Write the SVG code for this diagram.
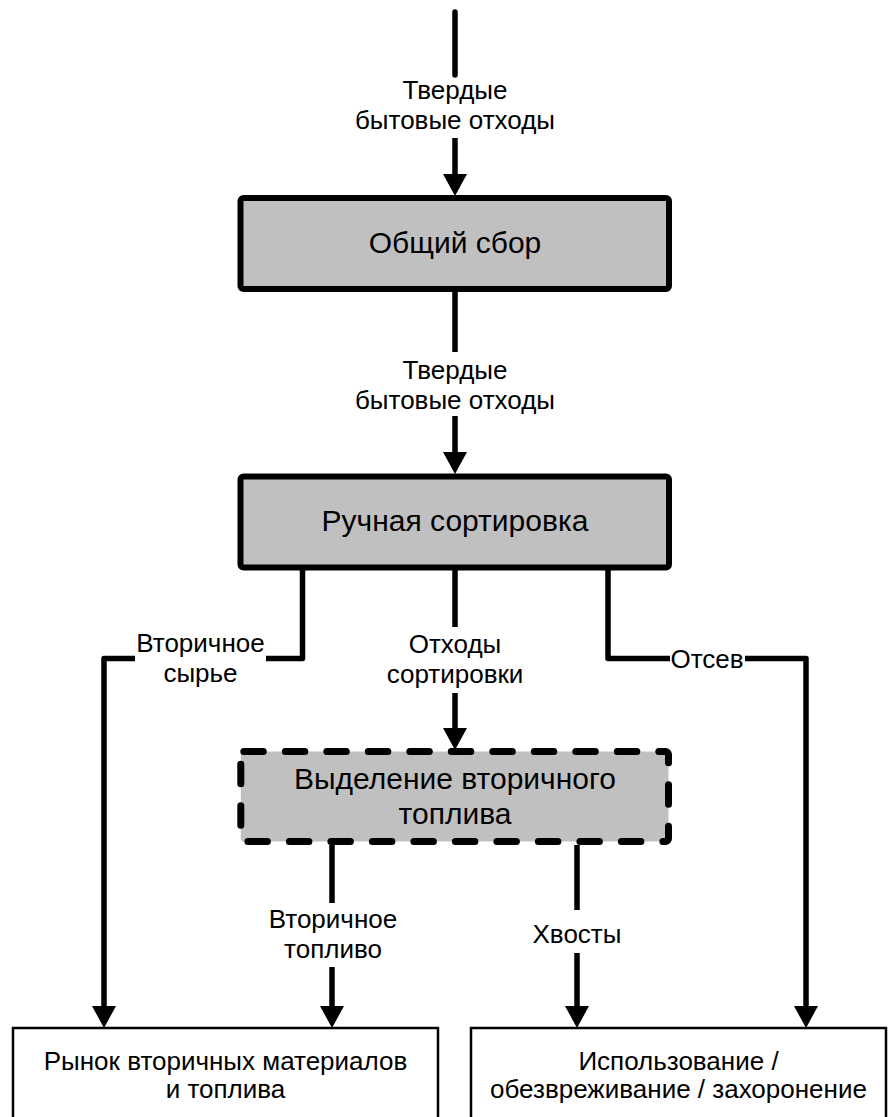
<svg xmlns="http://www.w3.org/2000/svg" width="889" height="1117" viewBox="0 0 889 1117">
<style>
.proc{fill:#c0c0c0;stroke:#000;stroke-width:6;stroke-linejoin:round}
.dash{fill:#c0c0c0;stroke:#000;stroke-width:7;stroke-dasharray:19.5 22;stroke-linecap:round;stroke-linejoin:round}
.out{fill:#fff;stroke:#000;stroke-width:2.5}
.conn{fill:none;stroke:#000;stroke-width:5.5;stroke-linejoin:round}
.t30{font-family:"Liberation Sans",Arial,sans-serif;font-size:30px;text-anchor:middle;fill:#000}
.t26{font-family:"Liberation Sans",Arial,sans-serif;font-size:26px;text-anchor:middle;fill:#000}
</style>
<defs>
<marker id="arr" viewBox="0 0 22 24" refX="1" refY="12" markerWidth="22" markerHeight="24" markerUnits="userSpaceOnUse" orient="auto">
<path d="M0,0 L22,12 L0,24 Z" fill="#000"/>
</marker>
</defs>
<rect width="889" height="1117" fill="#fff"/>
<g id="connectors">
<path class="conn" d="M455,12 V75" stroke-linecap="round"/>
<path class="conn" d="M455,138 V175" marker-end="url(#arr)"/>
<path class="conn" d="M455,292 V352"/>
<path class="conn" d="M455,416 V453" marker-end="url(#arr)"/>
<path class="conn" d="M455,570 V627"/>
<path class="conn" d="M455,693 V729" marker-end="url(#arr)"/>
<path class="conn" d="M302.5,570 V658.5 H266"/>
<path class="conn" d="M135,658.5 H104 V1007" marker-end="url(#arr)"/>
<path class="conn" d="M608,570 V658.5 H670"/>
<path class="conn" d="M745,658.5 H806 V1007" marker-end="url(#arr)"/>
<path class="conn" d="M332,845 V903"/>
<path class="conn" d="M332,967 V1007" marker-end="url(#arr)"/>
<path class="conn" d="M577,845 V910"/>
<path class="conn" d="M577,953 V1007" marker-end="url(#arr)"/>
<text class="t26" x="455" y="98.5">Твердые</text>
<text class="t26" x="455" y="128.5">бытовые отходы</text>
<text class="t26" x="455" y="378.5">Твердые</text>
<text class="t26" x="455" y="408.5">бытовые отходы</text>
<text class="t26" x="200.5" y="651.5">Вторичное</text>
<text class="t26" x="200.5" y="681.5">сырье</text>
<text class="t26" x="455" y="652.5">Отходы</text>
<text class="t26" x="455" y="682.5">сортировки</text>
<text class="t26" x="707" y="667.5">Отсев</text>
<text class="t26" x="333" y="928">Вторичное</text>
<text class="t26" x="333" y="958">топливо</text>
<text class="t26" x="577" y="943">Хвосты</text>
</g>
<g id="node-collection">
<rect class="proc" x="240.5" y="198" width="428.5" height="91" rx="3"/>
<text class="t30" x="455" y="253">Общий сбор</text>
</g>
<g id="node-sorting">
<rect class="proc" x="240.5" y="476.5" width="428.5" height="91" rx="3"/>
<text class="t30" x="455" y="531">Ручная сортировка</text>
</g>
<g id="node-fuel">
<rect class="dash" x="240.8" y="751.5" width="427.7" height="90" rx="3"/>
<text class="t30" x="455" y="789">Выделение вторичного</text>
<text class="t30" x="455" y="823.5">топлива</text>
</g>
<g id="node-market">
<rect class="out" x="13" y="1028" width="425" height="120"/>
<text class="t26" x="225.5" y="1070">Рынок вторичных материалов</text>
<text class="t26" x="225.5" y="1097.5">и топлива</text>
</g>
<g id="node-disposal">
<rect class="out" x="471" y="1028" width="415" height="120"/>
<text class="t26" x="678.5" y="1070">Использование /</text>
<text class="t26" x="678.5" y="1097.5">обезвреживание / захоронение</text>
</g>
</svg>
